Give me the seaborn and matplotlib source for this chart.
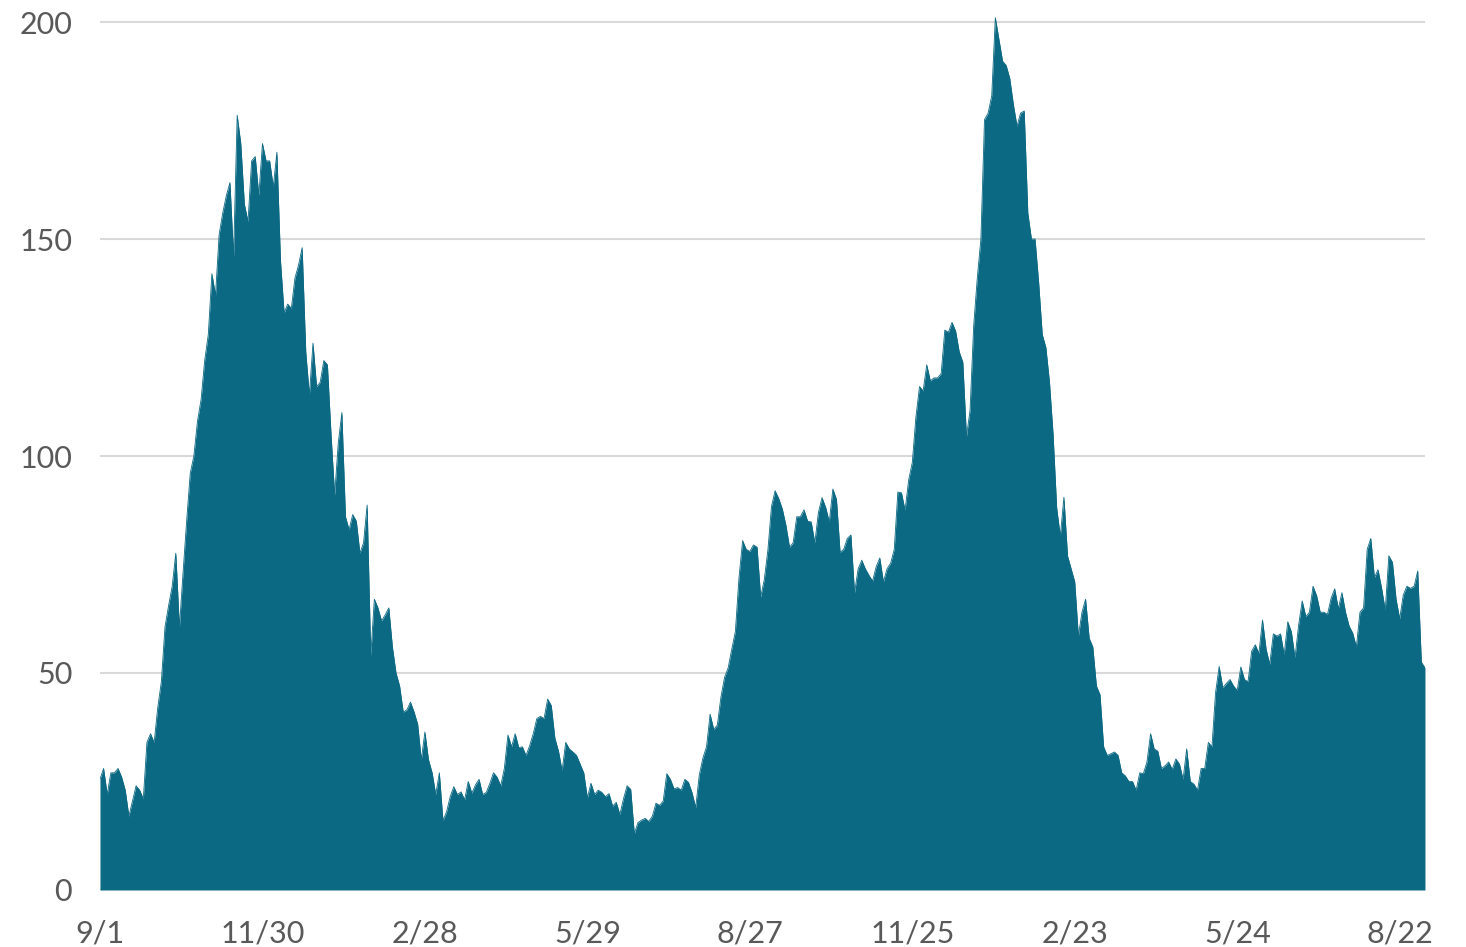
import pandas as pd
import matplotlib
matplotlib.use("Agg")
import matplotlib.pyplot as plt
import seaborn as sns

# readings taken every second day from 1 Sep 2020
start_date = "2020-09-01"
step = "2D"
values = [
    25.5, 28, 22, 27, 27, 28, 26, 23, 17, 20.5,
    24, 23, 21, 34, 36, 34, 42, 48, 60.6, 65.5,
    70, 77.6, 60.5, 73, 85, 96, 100, 108, 113, 122,
    128, 142, 137, 151, 156, 160, 163, 146, 178.5, 172,
    158, 154, 168, 169, 160, 172, 168, 168, 162, 170,
    145, 133, 135, 134, 141, 144, 148, 124, 114, 126,
    116, 117, 122, 121, 105, 91, 103, 110, 86, 83,
    86.5, 85, 77.6, 80, 88.7, 54, 67, 65, 62, 63.4,
    65, 56, 50, 47, 41, 41.5, 43.3, 41, 38.2, 30,
    36.4, 30, 27, 22, 27, 16, 18, 21.5, 23.8, 22,
    22.6, 20.8, 25, 22.3, 24.2, 25.5, 22, 22.5, 24.6, 27,
    26, 24, 28, 35.7, 33, 36, 32.8, 33, 31, 33.2,
    36, 39.5, 40, 39.5, 44, 42.5, 35, 32, 27.5, 34,
    32.5, 31.8, 31, 29, 27, 21.2, 24.6, 22, 23, 22.5,
    21.5, 22.2, 19.3, 20.2, 17.4, 21, 24, 23.2, 13, 15.5,
    16.1, 16.5, 15.8, 17, 20, 19.5, 20.5, 26.8, 25.5, 23.3,
    23.6, 23, 25.5, 24.8, 22.4, 19, 26.5, 30.4, 33, 40.5,
    37, 38, 44.5, 49, 51.2, 55.5, 59.6, 72, 80.5, 78.5,
    78, 79.5, 79, 67.5, 71.5, 78.3, 88.4, 92, 90.2, 87.8,
    84, 79, 80, 86, 86, 87.6, 85, 84.8, 80, 87,
    90.4, 88.2, 84.8, 92.4, 90, 77.8, 78.5, 81, 81.8, 68.5,
    74, 76, 74, 72.5, 71.2, 74.5, 76.5, 71, 74, 75.3,
    78.5, 91.7, 91.5, 87.5, 94.5, 98.5, 109, 116, 115, 121,
    117.3, 118, 118, 119, 129, 128.5, 130.8, 128.8, 124, 121.6,
    104.5, 110.5, 130, 141, 150, 177.5, 179, 183, 201, 196,
    191, 190, 187, 181, 176, 179, 179.5, 156, 150, 150,
    140, 128, 125, 117, 105, 88, 81.5, 90.5, 77, 74,
    71, 58.5, 64, 67, 58, 56, 47, 45, 33, 31,
    31.4, 31.8, 31, 27, 26.3, 25, 25, 23, 27, 26.8,
    29.5, 36, 32.5, 32, 28, 28.6, 29.5, 27.8, 30.2, 29,
    25.5, 32.5, 25, 24.4, 23, 28, 28, 34, 33, 45.5,
    51.5, 46.6, 47.6, 48.5, 47, 46, 51.4, 48.5, 48, 55,
    56.5, 54.5, 62.2, 55.5, 52, 59, 58.5, 59, 54.2, 61.8,
    59.5, 53.5, 61, 66.6, 63, 64, 70, 67.8, 64, 64,
    63.5, 67.2, 69.4, 64.8, 68.5, 64, 60.8, 59.2, 56, 64,
    65, 78.5, 81, 72, 73.8, 69.5, 64.5, 77, 75.5, 67,
    62.5, 68, 70, 69.5, 70, 73.5, 52.5, 51.2,
]
y_ticks = [0, 50, 100, 150, 200]
tick_every_days = 90

dates = pd.date_range(start_date, periods=len(values), freq=step)
df = pd.DataFrame({"date": dates, "value": values})

sns.set_theme(style="white")
plt.rcParams["font.family"] = ["Lato", "DejaVu Sans"]

fill_color = "#0c6983"
text_color = "#595959"

fig = plt.figure(figsize=(14.66, 9.47), dpi=100)
ax = fig.add_axes([0.0682, 0.0602, 0.9038, 0.9303])

ax.fill_between(df["date"], 0, df["value"], color=fill_color, linewidth=0, zorder=2)
sns.lineplot(data=df, x="date", y="value", ax=ax, color=fill_color,
             linewidth=0.6, zorder=3)

ax.set_xlim(dates[0], dates[-1])
ax.set_ylim(0, 203)
ax.set_yticks(y_ticks)
ax.yaxis.grid(True, color="#d9d9d9", linewidth=1.5)
ax.xaxis.grid(False)
ax.set_axisbelow(True)

x_ticks = pd.date_range(start_date, dates[-1], freq=f"{tick_every_days}D")
ax.set_xticks(x_ticks)
ax.set_xticklabels([f"{d.month}/{d.day}" for d in x_ticks])

ax.tick_params(axis="y", length=0, pad=20, labelsize=22, labelcolor=text_color)
ax.tick_params(axis="x", length=0, pad=21, labelsize=22, labelcolor=text_color)
ax.set_xlabel("")
ax.set_ylabel("")
for s in ax.spines.values():
    s.set_visible(False)

fig.savefig("out.png", dpi=100)
